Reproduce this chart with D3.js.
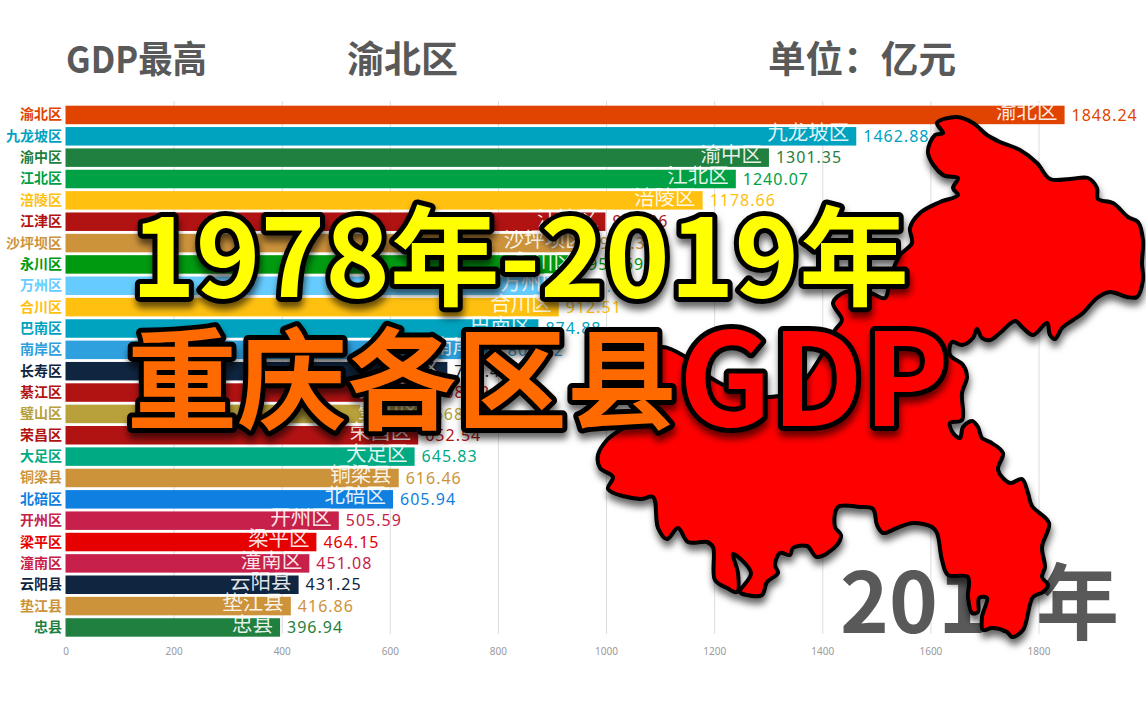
<!DOCTYPE html>
<html>
<head>
<meta charset="utf-8">
<style>
    html, body { margin: 0; background: #fff; }
    svg { display: block; }
    text { font-family: "Noto Sans CJK SC", "Noto Sans", sans-serif; }
    .big { font-weight: 700; stroke: #000; stroke-linejoin: round; paint-order: stroke; }
</style>
<script src="https://cdn.jsdelivr.net/npm/d3@7/dist/d3.min.js"></script>
</head>
<body>
<svg id="chart" width="1146" height="716"></svg>
<script>
// Districts and GDP (some values are hidden behind the title, so estimated)
const districts = ["渝北区","九龙坡区","渝中区","江北区","涪陵区","江津区","沙坪坝区","永川区","万州区","合川区","巴南区","南岸区","长寿区","綦江区","璧山区","荣昌区","大足区","铜梁县","北碚区","开州区","梁平区","潼南区","云阳县","垫江县","忠县"];
const gdp = [1848.24,1462.88,1301.35,1240.07,1178.66,998.86,975.32,953.69,931.47,912.51,874.88,805.32,706.42,668.92,668.17,652.54,645.83,616.46,605.94,505.59,464.15,451.08,431.25,416.86,396.94];
const colors = ["#e04400","#00a3bf","#1f8040","#00a045","#ffc010","#b11212","#cc933b","#009a10","#66ccff","#ffc010","#00a3bf","#2ea0dd","#0f2540","#b11212","#b8a03a","#b11212","#00ab84","#cc933b","#0f80e0","#c7214b","#e60000","#c7214b","#0f2540","#cc933b","#1f8040"];
const xTicks = [0,200,400,600,800,1000,1200,1400,1600,1800];

// Outline of the Chongqing map overlay, in page pixels
const mapOutline = [[937,123],[957,117],[973,123],[987,135],[1000,142],[1020,150],[1037,163],[1050,179],[1070,179],[1088,178],[1097,188],[1098,199],[1113,203],[1128,217],[1138,222],[1143,240],[1142,263],[1143,280],[1137,297],[1127,297],[1110,292],[1097,298],[1083,313],[1073,320],[1062,328],[1055,339],[1050,335],[1047,323],[1033,335],[1023,328],[1015,321],[1000,333],[990,340],[982,338],[977,329],[973,338],[962,345],[952,342],[950,355],[963,365],[967,377],[962,393],[962,420],[950,423],[953,433],[960,438],[963,427],[972,421],[978,427],[982,438],[990,442],[1003,453],[998,470],[1010,483],[1022,479],[1028,493],[1032,506],[1049,523],[1042,547],[1045,567],[1042,577],[1048,585],[1043,592],[1033,597],[1023,630],[1012,637],[1007,632],[992,628],[983,630],[982,617],[987,598],[979,598],[978,612],[972,613],[968,597],[968,577],[948,575],[942,560],[937,533],[932,527],[913,523],[897,528],[883,533],[877,525],[873,509],[860,507],[838,507],[835,527],[841,535],[837,545],[817,557],[807,546],[793,548],[790,555],[780,553],[775,565],[778,573],[767,582],[762,595],[747,595],[740,592],[751,573],[733,554],[738,573],[737,592],[727,588],[715,580],[713,547],[707,542],[688,542],[678,528],[667,539],[658,528],[653,497],[640,499],[608,489],[613,477],[600,468],[598,455],[607,440],[620,430],[645,415],[655,385],[650,355],[662,347],[684,356],[711,378],[740,392],[770,397],[790,392],[805,380],[823,353],[835,330],[842,320],[833,303],[845,292],[868,292],[885,298],[889,285],[893,270],[900,255],[912,243],[910,228],[920,213],[940,202],[958,195],[953,188],[958,178],[943,175],[928,153],[935,135],[943,133]];

const svg = d3.select("#chart");
const x = d3.scaleLinear().domain([0, 1800]).range([65.5, 1038.5]);
const y = d3.scaleBand().domain(districts).range([105.7, 636.7]).paddingInner(0.134);

// Soft shadow for map and title
const shadow = svg.append("defs").append("filter")
    .attr("id", "shadow").attr("x", "-10%").attr("y", "-10%").attr("width", "120%").attr("height", "125%");
shadow.append("feDropShadow")
    .attr("dx", 1).attr("dy", 6).attr("stdDeviation", 3.5)
    .attr("flood-color", "#000").attr("flood-opacity", 0.6);

// Header
const header = [["GDP最高", 66, 141], ["渝北区", 347, 111], ["单位：亿元", 768, 188]];
svg.selectAll(".head").data(header).join("text")
    .attr("class", "head")
    .attr("x", d => d[1]).attr("y", 73)
    .attr("font-size", 37).attr("font-weight", 700).attr("fill", "#595959")
    .attr("textLength", d => d[2]).attr("lengthAdjust", "spacingAndGlyphs")
    .text(d => d[0]);

// Grid and x axis
const xAxis = svg.append("g")
    .attr("transform", "translate(0,634)")
    .call(d3.axisBottom(x).tickValues(xTicks).tickFormat(d3.format("d")).tickSize(0).tickPadding(14));
xAxis.select(".domain").remove();
xAxis.selectAll("text").attr("font-size", 10).attr("fill", "#9a9a9a")
    .style("font-family", "'Noto Sans', sans-serif");
xAxis.selectAll(".tick").filter(d => d > 0).append("line")
    .attr("y1", -533).attr("y2", 0).attr("stroke", "#dcdcdc");

// Bars
svg.selectAll(".bar").data(districts).join("rect")
    .attr("class", "bar")
    .attr("x", x(0))
    .attr("y", d => y(d))
    .attr("width", (d, i) => x(gdp[i]) - x(0))
    .attr("height", y.bandwidth())
    .attr("fill", (d, i) => colors[i]);

// Category labels
const yAxis = svg.append("g")
    .attr("transform", "translate(65,0)")
    .call(d3.axisLeft(y).tickSize(0).tickPadding(3));
yAxis.select(".domain").remove();
yAxis.selectAll("text")
    .attr("font-size", 14).attr("font-weight", 700)
    .attr("fill", (d, i) => colors[i])
    .style("font-family", "'Noto Sans CJK SC', sans-serif");

// Names inside the bars
svg.selectAll(".name").data(districts).join("text")
    .attr("class", "name")
    .attr("x", (d, i) => x(gdp[i]) - 7)
    .attr("y", d => y(d) + 13.4)
    .attr("text-anchor", "end")
    .attr("font-size", 20.5).attr("fill", "#fff").attr("fill-opacity", 0.9)
    .text(d => d);

// Values after the bars
svg.selectAll(".value").data(districts).join("text")
    .attr("class", "value")
    .attr("x", (d, i) => x(gdp[i]) + 7)
    .attr("y", d => y(d) + 15)
    .attr("font-size", 16).attr("letter-spacing", 1)
    .attr("fill", (d, i) => colors[i])
    .style("font-family", "'Noto Sans', sans-serif")
    .text((d, i) => gdp[i].toFixed(2));

// Year, later covered by the map
svg.append("text")
    .attr("x", 840).attr("y", 633)
    .attr("font-size", 83).attr("font-weight", 700).attr("fill", "#595959")
    .text("2017年");

// Map overlay
svg.append("path")
    .attr("d", d3.line().curve(d3.curveCatmullRomClosed.alpha(0.5))(mapOutline))
    .attr("fill", "#ff0000").attr("stroke", "#000").attr("stroke-width", 4)
    .attr("stroke-linejoin", "round").attr("filter", "url(#shadow)");

// Big title
const titles = [
    { text: "1978年-2019年", x: 131, y: 297, size: 108, fill: "#ffff00", len: 778 },
    { text: "重庆各区县", x: 127, y: 421, size: 110, fill: "#ff6a00", len: 550 },
    { text: "GDP", x: 679, y: 426, size: 128, fill: "#ff0000", len: 270 }
];
svg.selectAll(".big").data(titles).join("text")
    .attr("class", "big")
    .attr("x", d => d.x).attr("y", d => d.y)
    .attr("font-size", d => d.size)
    .attr("fill", d => d.fill)
    .attr("stroke-width", 10)
    .attr("textLength", d => d.len)
    .attr("lengthAdjust", "spacingAndGlyphs")
    .attr("filter", "url(#shadow)")
    .text(d => d.text);
</script>
</body>
</html>
